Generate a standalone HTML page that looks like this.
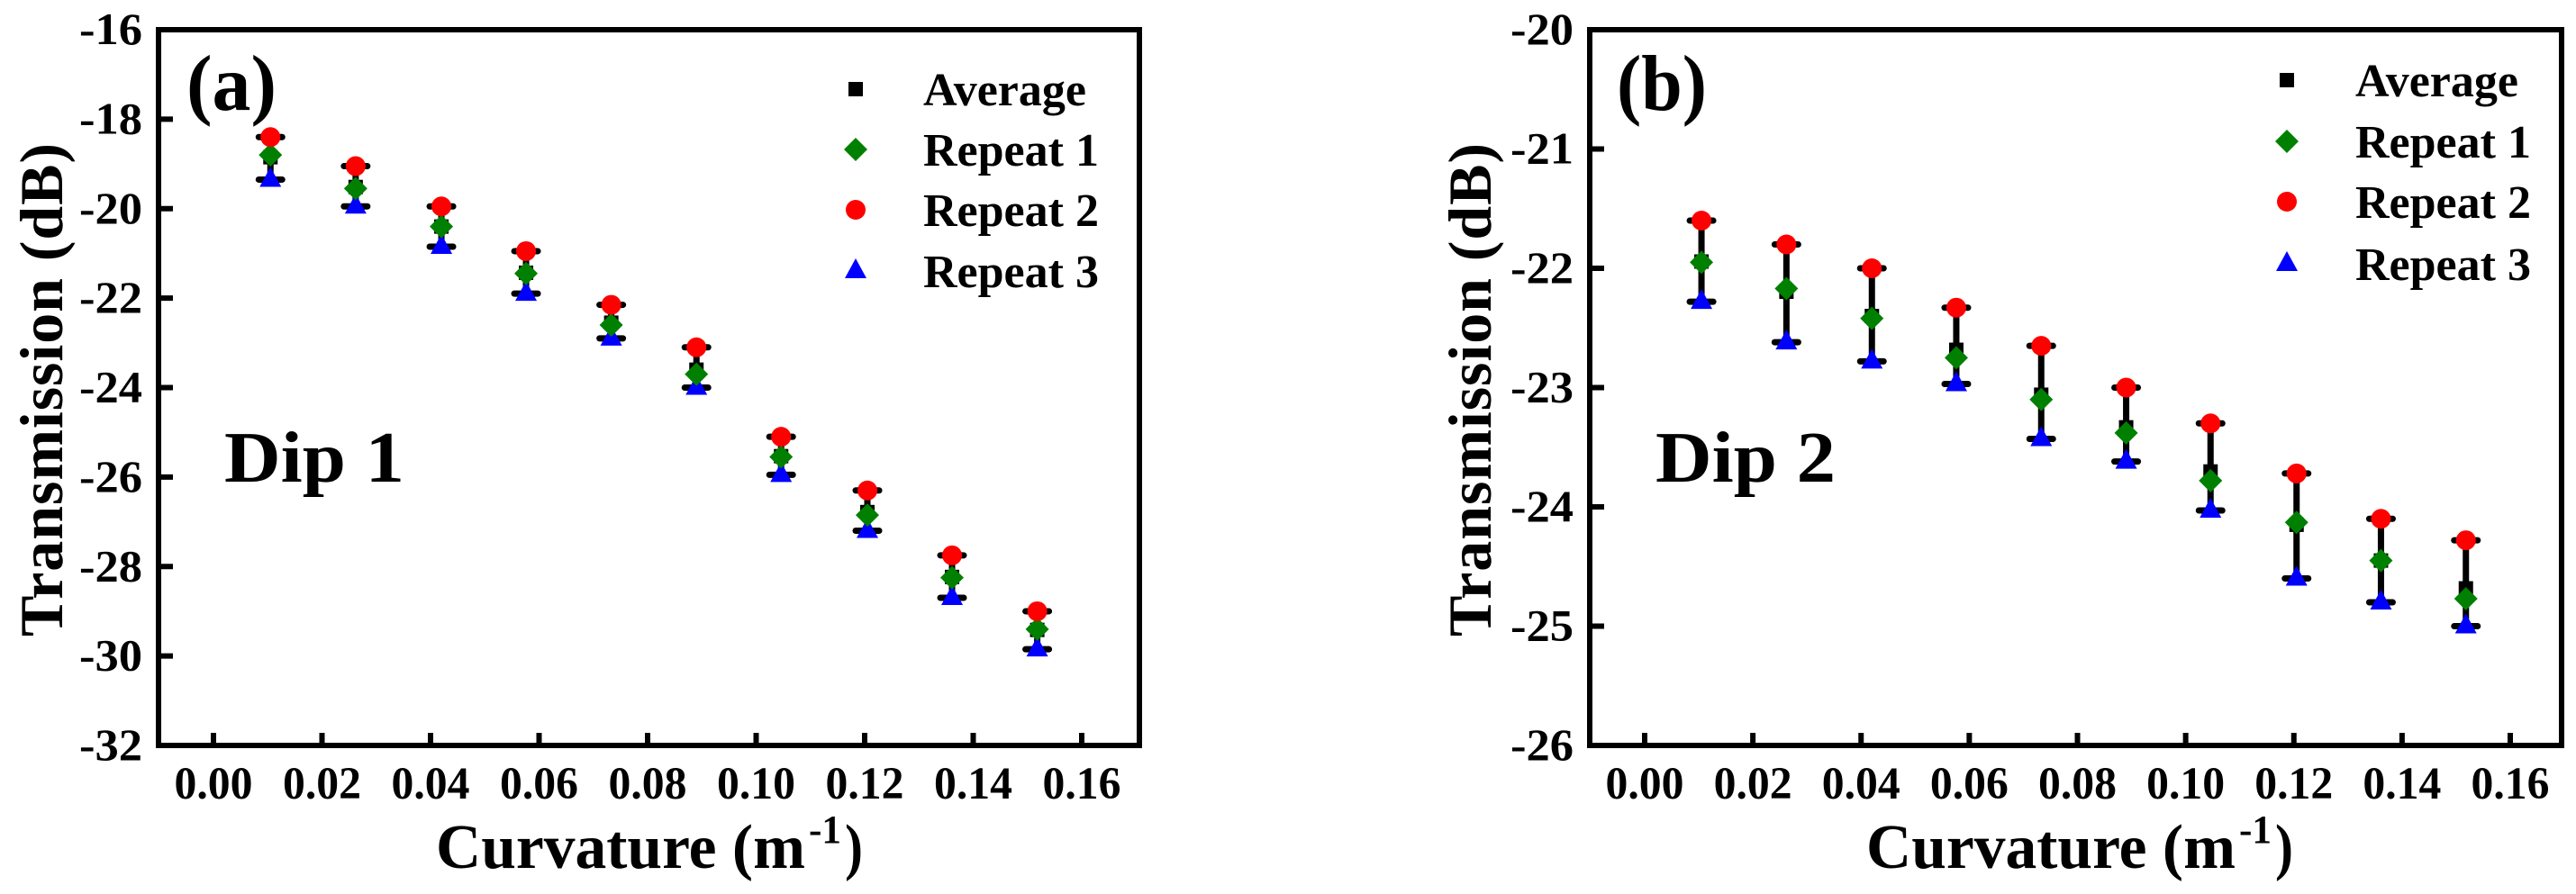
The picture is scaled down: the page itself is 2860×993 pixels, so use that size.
<!DOCTYPE html>
<html><head><meta charset="utf-8"><style>
html,body{margin:0;padding:0;background:#fff;overflow:hidden}
svg{display:block}
svg text{font-family:"Liberation Serif","Times New Roman","DejaVu Serif",serif;font-weight:700;fill:#000}
</style></head><body>
<svg id="fig" width="2860" height="993" viewBox="0 0 2860 993" xmlns="http://www.w3.org/2000/svg" font-family="Liberation Serif, Times New Roman, DejaVu Serif, serif" font-weight="bold"></svg>
<script>
const curvature = [0.0105, 0.0262, 0.042, 0.0576, 0.0733, 0.089, 0.1046, 0.1205, 0.1361, 0.1518];
const dip1Repeat1 = [-18.8, -19.55, -20.4, -21.45, -22.6, -23.7, -25.55, -26.85, -28.25, -29.4];
const dip1Repeat2 = [-18.4, -19.05, -19.95, -20.95, -22.15, -23.1, -25.1, -26.3, -27.75, -29.0];
const dip1Repeat3 = [-19.35, -19.95, -20.85, -21.9, -22.9, -24.0, -25.95, -27.2, -28.7, -29.85];
const dip2Repeat1 = [-21.95, -22.17, -22.42, -22.75, -23.1, -23.38, -23.78, -24.13, -24.45, -24.77];
const dip2Repeat2 = [-21.6, -21.8, -22.0, -22.33, -22.65, -23.0, -23.3, -23.72, -24.1, -24.28];
const dip2Repeat3 = [-22.28, -22.62, -22.78, -22.97, -23.43, -23.62, -24.03, -24.6, -24.8, -25.0];
const xTicks = [0.00, 0.02, 0.04, 0.06, 0.08, 0.10, 0.12, 0.14, 0.16];
const xTickLabels = ["0.00","0.02","0.04","0.06","0.08","0.10","0.12","0.14","0.16"];
const yTicksA = [-16, -18, -20, -22, -24, -26, -28, -30, -32];
const yTicksB = [-20, -21, -22, -23, -24, -25, -26];
const legendLabels = ["Average", "Repeat 1", "Repeat 2", "Repeat 3"];

const NS = "http://www.w3.org/2000/svg";
const svg = document.getElementById('fig');
function el(tag, attrs, parent, txt){
  const e = document.createElementNS(NS, tag);
  for (const k in attrs) e.setAttribute(k, attrs[k]);
  if (txt !== undefined) e.textContent = txt;
  (parent || svg).appendChild(e);
  return e;
}
function mean(a,b,c){return (a+b+c)/3;}

function panel(cfg){
  const g = el('g', {});
  
  
  const L=cfg.left, R=cfg.right, T=33, B=828;
  const xs = v => cfg.x0 + (v-0)/(0.16)*(cfg.x16-cfg.x0);
  const ys = v => T + (cfg.ymax - v)/(cfg.ymax-cfg.ymin)*(B-T);
  const fr = el('rect', {x:L, y:T, width:R-L, height:B-T, fill:'none', stroke:'#000', 'stroke-width':6}, g);
  
  
  xTicks.forEach((t,i)=>{
    const x = xs(t);
    const tk = el('line', {x1:x, x2:x, y1:B, y2:B-14, stroke:'#000', 'stroke-width':6}, g);
    
    
    const lb = el('text', {x:x, y:887, 'font-size':51, 'text-anchor':'middle', textLength:87, lengthAdjust:'spacingAndGlyphs'}, g, xTickLabels[i]);
    
    
  });
  cfg.yTicks.forEach(t=>{
    const y = ys(t);
    const tk = el('line', {x1:L, x2:L+16, y1:y, y2:y, stroke:'#000', 'stroke-width':6}, g);
    
    
    const lb = el('text', {x:cfg.ylabRight, y:y+16, 'font-size':50, 'text-anchor':'end', textLength:70, lengthAdjust:'spacingAndGlyphs'}, g, String(t));
    
    
  });
  const yt = el('text', {x:0, y:0, 'font-size':68, 'text-anchor':'middle', textLength:548, lengthAdjust:'spacing', transform:`translate(${cfg.ytitleX},433) rotate(-90)`}, g, 'Transmission (dB)');
  
  
  const xt = el('text', {x:cfg.xtitleX, y:964, 'font-size':70, textLength:410, lengthAdjust:'spacingAndGlyphs'}, g, 'Curvature (m');
  
  
  const sup = el('text', {x:cfg.xtitleX+414, y:936, 'font-size':44, textLength:36, lengthAdjust:'spacingAndGlyphs'}, g, '-1');
  
  
  const cp = el('text', {x:cfg.xtitleX+454, y:964, 'font-size':70, textLength:20, lengthAdjust:'spacingAndGlyphs'}, g, ')');
  
  
  const pl = el('text', {x:cfg.labX, y:122, 'font-size':88, textLength:100, lengthAdjust:'spacingAndGlyphs'}, g, cfg.label);
  
  
  const dp = el('text', {x:cfg.dipX, y:535, 'font-size':80, textLength:200, lengthAdjust:'spacingAndGlyphs'}, g, cfg.dip);
  
  
  curvature.forEach((c,i)=>{
    const x = xs(c);
    const r1=cfg.r1[i], r2=cfg.r2[i], r3=cfg.r3[i];
    const hi = Math.max(r1,r2,r3), lo = Math.min(r1,r2,r3), av = mean(r1,r2,r3);
    const eb = el('line', {x1:x, x2:x, y1:ys(hi), y2:ys(lo), stroke:'#000', 'stroke-width':7}, g);
    
    
    [hi,lo].forEach(v=>{
      const cap = el('line', {x1:x-13, x2:x+13, y1:ys(v), y2:ys(v), stroke:'#000', 'stroke-width':7, 'stroke-linecap':'round'}, g);
      
      
    });
    const sq = el('rect', {x:x-8, y:ys(av)-8, width:16, height:16, fill:'#000'}, g);
    
    
    const y3 = ys(r3);
    const tri = el('polygon', {points:`${x},${y3-14} ${x-12},${y3+8} ${x+12},${y3+8}`, fill:'#0000ff'}, g);
    
    
    const y1 = ys(r1);
    const dm = el('polygon', {points:`${x},${y1-13} ${x+13},${y1} ${x},${y1+13} ${x-13},${y1}`, fill:'#008000'}, g);
    
    
    const ci = el('circle', {cx:x, cy:ys(r2), r:11, fill:'#ff0000'}, g);
    
    
  });
  const lg = el('g', {}, g);
  
  
  legendLabels.forEach((lab,i)=>{
    const y = cfg.legY[i], mx = cfg.legMX;
    let m;
    if (i===0) m = el('rect', {x:mx-8, y:y-8, width:16, height:16, fill:'#000'}, lg);
    else if (i===1) m = el('polygon', {points:`${mx},${y-13} ${mx+13},${y} ${mx},${y+13} ${mx-13},${y}`, fill:'#008000'}, lg);
    else if (i===2) m = el('circle', {cx:mx, cy:y, r:11, fill:'#ff0000'}, lg);
    else m = el('polygon', {points:`${mx},${y-14} ${mx-12},${y+8} ${mx+12},${y+8}`, fill:'#0000ff'}, lg);
    
    
    const t = el('text', {x:cfg.legTX, y:y+18, 'font-size':52}, lg, lab);
    
    
  });
}

panel({name:'panel-a-dip1', left:176, right:1265, x0:237, x16:1201, ymax:-16, ymin:-32, yTicks:yTicksA,
  ylabRight:158, ytitleX:69, xtitleX:484, label:'(a)', labX:207, dip:'Dip 1', dipX:249,
  r1:dip1Repeat1, r2:dip1Repeat2, r3:dip1Repeat3, legY:[99,166,233,301], legMX:950, legTX:1025});
panel({name:'panel-b-dip2', left:1765, right:2844, x0:1826, x16:2787, ymax:-20, ymin:-26, yTicks:yTicksB,
  ylabRight:1747, ytitleX:1655, xtitleX:2072, label:'(b)', labX:1795, dip:'Dip 2', dipX:1838,
  r1:dip2Repeat1, r2:dip2Repeat2, r3:dip2Repeat3, legY:[89,157,224,293], legMX:2539, legTX:2615});
</script>
</body></html>
